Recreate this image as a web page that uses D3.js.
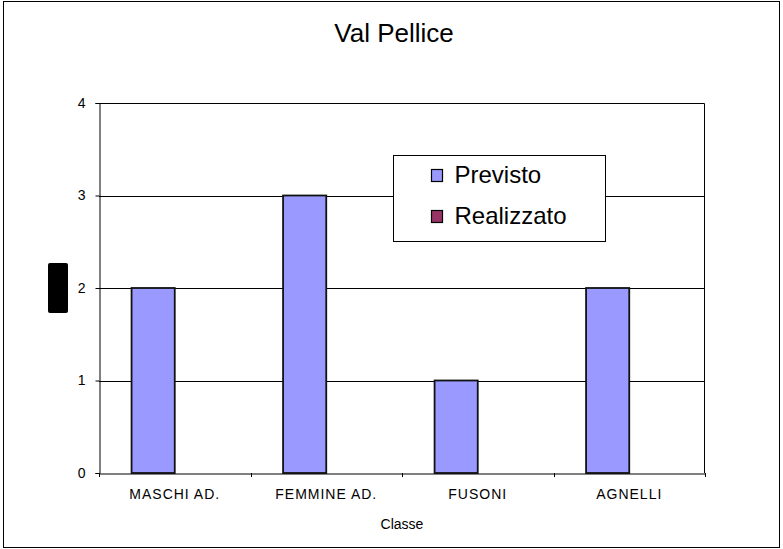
<!DOCTYPE html>
<html>
<head>
<meta charset="utf-8">
<script src="https://cdn.jsdelivr.net/npm/d3@7"></script>
<style>
  body { margin: 0; background: #fff; }
  text { font-family: "Liberation Sans", Arial, sans-serif; fill: #000; }
</style>
</head>
<body>
<div id="chart"></div>
<script>
// data
const categories = ["MASCHI AD.", "FEMMINE AD.", "FUSONI", "AGNELLI"];
const seriesNames = ["Previsto", "Realizzato"];
const previsto = [2, 3, 1, 2];
const realizzato = [0, 0, 0, 0];
const yTicks = [0, 1, 2, 3, 4];
const seriesColors = ["#9999FF", "#993366"];

const W = 783, H = 549;
const margin = { top: 103, right: 78, bottom: 76, left: 99 },
      width = W - margin.left - margin.right,
      height = H - margin.top - margin.bottom;

const root = d3.select("#chart").append("svg")
    .attr("width", W)
    .attr("height", H);

// outer frame
root.append("rect")
    .attr("x", 3.5).attr("y", 1.5)
    .attr("width", 776).attr("height", 546)
    .attr("fill", "#fff")
    .attr("stroke", "#000")
    .attr("stroke-width", 1);

// title
root.append("text")
    .attr("x", 394).attr("y", 42)
    .attr("text-anchor", "middle")
    .style("font-size", "26px")
    .text("Val Pellice");

const svg = root.append("g")
    .attr("transform", `translate(${margin.left},${margin.top})`);

// scales
const x = d3.scaleBand()
    .domain(categories)
    .range([0, width])
    .padding(0);

const gap = x.bandwidth() * 0.215;
const xInner = d3.scaleBand()
    .domain(seriesNames)
    .range([gap, x.bandwidth() - gap])
    .padding(0);

const y = d3.scaleLinear()
    .domain([0, 4])
    .range([height, 0]);

// gridlines
svg.append("g")
    .selectAll("line")
    .data(yTicks.filter(d => d > 0 && d < 4))
    .enter().append("line")
    .attr("x1", 0).attr("x2", width)
    .attr("y1", d => Math.round(y(d)) + 0.5)
    .attr("y2", d => Math.round(y(d)) + 0.5)
    .attr("stroke", "#000")
    .attr("stroke-width", 1);

// plot area frame (top and right)
svg.append("path")
    .attr("d", `M0,0.5H${width - 0.5}V${height}`)
    .attr("fill", "none")
    .attr("stroke", "#000");

// bars
const rows = [];
categories.forEach((c, i) => {
    rows.push({ cat: c, series: "Previsto", value: previsto[i] });
    rows.push({ cat: c, series: "Realizzato", value: realizzato[i] });
});

svg.selectAll("rect.bar")
    .data(rows.filter(d => d.value > 0))
    .enter().append("rect")
    .attr("class", "bar")
    .attr("x", d => x(d.cat) + xInner(d.series))
    .attr("y", d => y(d.value))
    .attr("width", xInner.bandwidth())
    .attr("height", d => y(0) - y(d.value))
    .attr("fill", (d) => seriesColors[seriesNames.indexOf(d.series)])
    .attr("stroke", "#111")
    .attr("stroke-width", 1.8);

// y axis
const yAxis = svg.append("g")
    .attr("transform", "translate(0.5,0)")
    .call(d3.axisLeft(y).tickValues(yTicks).tickSize(4).tickPadding(10).tickFormat(d3.format("d")));
yAxis.select(".domain").attr("stroke", "#000");
yAxis.selectAll("text").style("font-size", "14px");

// x axis
const xAxis = svg.append("g")
    .attr("transform", `translate(0,${height + 0.5})`)
    .call(d3.axisBottom(x).tickSize(0).tickPadding(16));
xAxis.select(".domain").attr("stroke", "#000");
xAxis.selectAll("text")
    .style("font-size", "14px")
    .style("letter-spacing", "1px");

// x ticks at category boundaries
svg.append("g")
    .selectAll("line")
    .data(categories.map(c => x(c)).concat([width]))
    .enter().append("line")
    .attr("x1", d => Math.round(d) + 0.5).attr("x2", d => Math.round(d) + 0.5)
    .attr("y1", height).attr("y2", height + 4)
    .attr("stroke", "#000");

// x axis title
svg.append("text")
    .attr("x", width / 2)
    .attr("y", height + 56)
    .attr("text-anchor", "middle")
    .style("font-size", "14px")
    .text("Classe");

// y axis title blob (rendered as a solid block in the original)
root.append("rect")
    .attr("x", 48).attr("y", 263)
    .attr("width", 20).attr("height", 50)
    .attr("rx", 2)
    .attr("fill", "#000");

// legend
const legend = root.append("g")
    .attr("transform", "translate(393.5,155.5)");

legend.append("rect")
    .attr("width", 212).attr("height", 86)
    .attr("fill", "#fff")
    .attr("stroke", "#000");

const items = legend.selectAll("g.item")
    .data(seriesNames)
    .enter().append("g")
    .attr("class", "item")
    .attr("transform", (d, i) => `translate(38,${14 + i * 41})`);

items.append("rect")
    .attr("width", 11).attr("height", 12)
    .attr("fill", (d, i) => seriesColors[i])
    .attr("stroke", "#000")
    .attr("stroke-width", 1.2);

items.append("text")
    .attr("x", 23)
    .attr("y", 13)
    .style("font-size", "24px")
    .text(d => d);
</script>
</body>
</html>
